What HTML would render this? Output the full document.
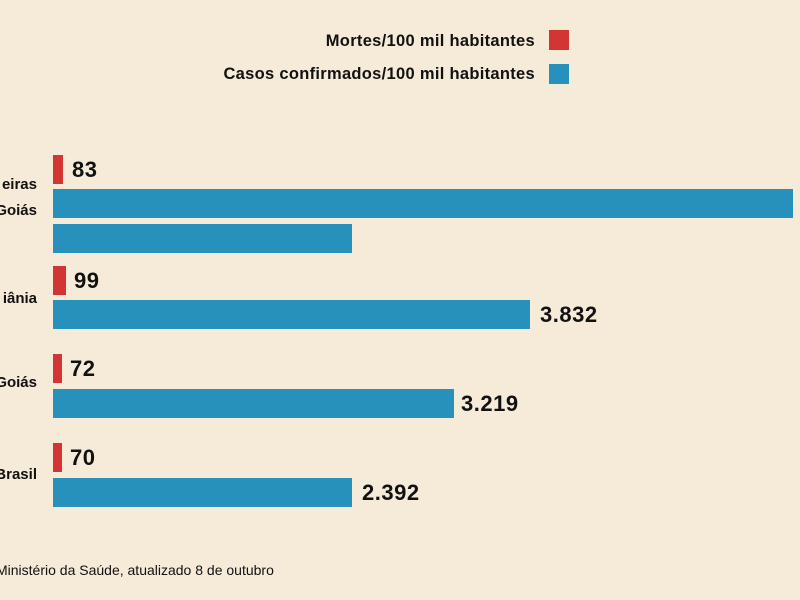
<!DOCTYPE html>
<html><head><meta charset="utf-8"><style>
body{margin:0;width:800px;height:600px;background:#f6ead8;position:relative;overflow:hidden;font-family:"Liberation Sans",sans-serif;color:#111}
.a{position:absolute}
.r{background:#d33434}
.b{background:#2891bb}
.lab{position:absolute;right:763px;font-weight:bold;font-size:15px;white-space:nowrap;line-height:18px}
.v{position:absolute;font-weight:bold;font-size:22px;line-height:26px;letter-spacing:0.5px}
.lg{position:absolute;right:265px;font-weight:bold;font-size:16.5px;letter-spacing:0.3px;white-space:nowrap;line-height:18px}
</style></head><body>
<div class="lg" style="top:32px">Mortes/100 mil habitantes</div>
<div class="a r" style="left:549px;top:30px;width:20px;height:20px"></div>
<div class="lg" style="top:65px">Casos confirmados/100 mil habitantes</div>
<div class="a b" style="left:549px;top:64px;width:20px;height:20px"></div>

<div class="lab" style="top:176px">eiras</div>
<div class="lab" style="top:202px">Goiás</div>
<div class="a r" style="left:53px;top:155px;width:10px;height:29px"></div>
<div class="v" style="left:72px;top:157px">83</div>
<div class="a b" style="left:53px;top:189px;width:740px;height:29px"></div>
<div class="a b" style="left:53px;top:224px;width:299px;height:29px"></div>

<div class="lab" style="top:290px">iânia</div>
<div class="a r" style="left:53px;top:266px;width:13px;height:29px"></div>
<div class="v" style="left:74px;top:268px">99</div>
<div class="a b" style="left:53px;top:300px;width:477px;height:29px"></div>
<div class="v" style="left:540px;top:302px">3.832</div>

<div class="lab" style="top:374px">Goiás</div>
<div class="a r" style="left:53px;top:354px;width:9px;height:29px"></div>
<div class="v" style="left:70px;top:356px">72</div>
<div class="a b" style="left:53px;top:389px;width:401px;height:29px"></div>
<div class="v" style="left:461px;top:391px">3.219</div>

<div class="lab" style="top:466px">Brasil</div>
<div class="a r" style="left:53px;top:443px;width:9px;height:29px"></div>
<div class="v" style="left:70px;top:445px">70</div>
<div class="a b" style="left:53px;top:478px;width:299px;height:29px"></div>
<div class="v" style="left:362px;top:480px">2.392</div>

<div class="a" style="left:-4px;top:562px;font-size:14px;white-space:nowrap">Ministério da Saúde, atualizado 8 de outubro</div>
</body></html>
